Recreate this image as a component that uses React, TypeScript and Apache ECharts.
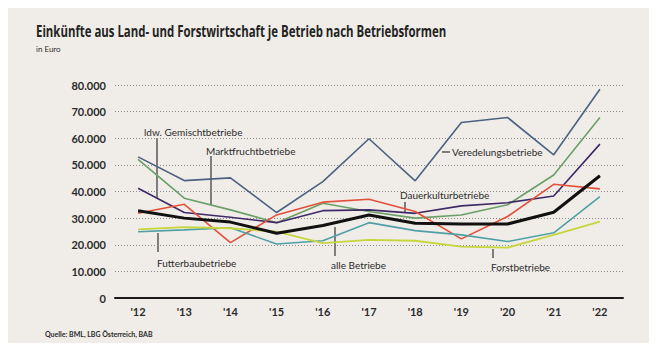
import React, { useEffect, useRef } from "react";
import * as echarts from "echarts";

const years = ["'12", "'13", "'14", "'15", "'16", "'17", "'18", "'19", "'20", "'21", "'22"];
const veredelung = [53000, 44100, 45100, 32100, 43700, 59800, 44000, 65900, 67800, 53800, 78400];
const marktfrucht = [52100, 37500, 33100, 28300, 35600, 32500, 30000, 31200, 35000, 46200, 67800];
const gemischt = [41200, 32100, 30300, 28300, 32800, 33100, 31800, 34600, 35800, 38300, 57800];
const dauerkultur = [31800, 35200, 20800, 31200, 36000, 37100, 32500, 22200, 30600, 42700, 41000];
const alle = [32800, 30000, 28500, 24300, 27200, 31200, 28100, 27800, 27800, 32200, 45900];
const futterbau = [24900, 25600, 26400, 20300, 21500, 28300, 25300, 23700, 21200, 24500, 38100];
const forst = [25800, 26600, 26200, 24900, 20600, 21800, 21500, 19300, 18900, 23700, 28700];

const seriesDefs = [
  { name: "Veredelungsbetriebe", data: veredelung, color: "#4d6180", width: 1.6 },
  { name: "Marktfruchtbetriebe", data: marktfrucht, color: "#6b9f68", width: 1.6 },
  { name: "ldw. Gemischtbetriebe", data: gemischt, color: "#3f2a67", width: 1.6 },
  { name: "Dauerkulturbetriebe", data: dauerkultur, color: "#e2503a", width: 1.6 },
  { name: "Futterbaubetriebe", data: futterbau, color: "#4fa0a6", width: 1.6 },
  { name: "Forstbetriebe", data: forst, color: "#c6d63c", width: 1.8 },
  { name: "alle Betriebe", data: alle, color: "#111111", width: 3 },
];

const FONT = "Lato, 'Noto Sans', sans-serif";
const TITLE = "Einkünfte aus Land- und Forstwirtschaft je Betrieb nach Betriebsformen";
const TITLE_FONT = "bold 16px 'Open Sans', sans-serif";

export default function App() {
  const ref = useRef<HTMLDivElement>(null);
  useEffect(() => {
    if (!ref.current) return;
    const chart = echarts.init(ref.current, null, { renderer: "svg" });
    let titleScale = 0.76;
    try {
      const ctx = document.createElement("canvas").getContext("2d");
      if (ctx) {
        ctx.font = TITLE_FONT;
        const w = ctx.measureText(TITLE).width;
        if (w > 0) titleScale = 411 / w;
      }
    } catch (e) {}
    const txt = (x: number, y: number, text: string, size = 10, weight: any = "normal") => ({
      type: "text",
      x,
      y,
      style: { text, fill: "#2b2b2b", font: `${weight} ${size}px ${FONT}`, textVerticalAlign: "middle" },
    });
    const ln = (x1: number, y1: number, x2: number, y2: number) => ({
      type: "line",
      shape: { x1, y1, x2, y2 },
      style: { stroke: "#333", lineWidth: 1.2 },
    });
    chart.setOption({
      animation: false,
      backgroundColor: "#f0ede8",
      grid: { left: 115, right: 34, top: 85, bottom: 53 },
      xAxis: {
        type: "category",
        data: years,
        boundaryGap: true,
        axisLine: { lineStyle: { color: "#1a1a1a", width: 2 } },
        axisTick: { show: false },
        axisLabel: { color: "#2b2b2b", fontFamily: FONT, fontSize: 11, fontWeight: "bold", margin: 8 },
      },
      yAxis: {
        type: "value",
        min: 0,
        max: 80000,
        interval: 10000,
        axisLine: { show: false },
        axisTick: { show: false },
        axisLabel: {
          color: "#2b2b2b",
          fontFamily: FONT,
          fontSize: 11,
          fontWeight: "bold",
          margin: 9,
          formatter: (v: number) => (v === 0 ? "0" : v.toLocaleString("de-DE")),
        },
        splitLine: { lineStyle: { color: "#8a8a8a", type: [1, 2], width: 1 } },
      },
      series: seriesDefs.map((s) => ({
        type: "line",
        name: s.name,
        data: s.data,
        symbol: "none",
        lineStyle: { color: s.color, width: s.width },
        z: s.name === "alle Betriebe" ? 5 : 2,
      })),
      graphic: [
        {
          type: "text",
          x: 36,
          y: 31,
          scaleX: titleScale,
          style: {
            text: TITLE,
            fill: "#232323",
            font: TITLE_FONT,
            textVerticalAlign: "middle",
          },
        },
        txt(36, 49, "in Euro", 8),
        txt(45, 334, "Quelle: BML, LBG Österreich, BAB", 7, "bold"),
        txt(144, 132, "ldw. Gemischtbetriebe", 10),
        ln(157, 138, 157, 198),
        txt(206, 151, "Marktfruchtbetriebe", 10),
        ln(211, 156, 211, 205),
        txt(452, 152, "Veredelungsbetriebe", 10),
        ln(442, 152, 450, 152),
        txt(400, 195, "Dauerkulturbetriebe", 10),
        ln(405, 202, 405, 213),
        txt(157, 263, "Futterbaubetriebe", 10),
        ln(158, 233, 158, 252),
        txt(331, 265, "alle Betriebe", 10),
        ln(335, 227, 335, 256),
        txt(491, 267, "Forstbetriebe", 10),
        ln(493, 249, 493, 258),
      ],
    });
    return () => chart.dispose();
  }, []);
  return <div ref={ref} style={{ width: 657, height: 351, margin: -8 }} />;
}
